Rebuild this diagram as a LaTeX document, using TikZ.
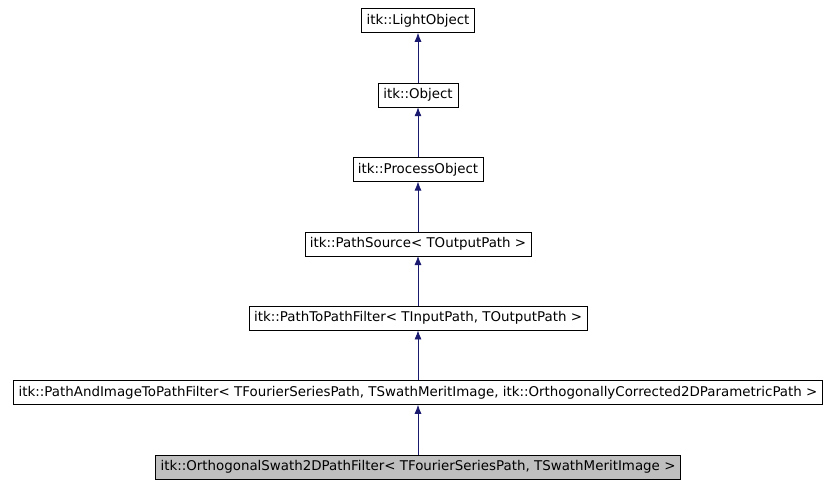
\documentclass[tikz,border=0pt]{standalone}
\usepackage{fontspec}
\setmainfont{DejaVu Sans}
\usetikzlibrary{arrows.meta, positioning}
\definecolor{edgeblue}{RGB}{25,25,112}
\begin{document}
\begin{tikzpicture}[x=1pt, y=1pt, >={Latex[length=9pt,width=7pt]}, node distance = 50pt]
				\tikzstyle{cls} = [draw=black, rectangle, minimum height=24pt, inner xsep=5pt, inner ysep=0pt, font=\fontsize{13.4}{15}\selectfont]
				\tikzstyle{cur} = [cls, fill=black!25]
				\tikzstyle{inh} = [->, edgeblue, thick]
				\useasboundingbox (0,0) rectangle (835,-485);
				
				\node[cur]	at (418,-467)	(orth)	{itk::OrthogonalSwath2DPathFilter< TFourierSeriesPath, TSwathMeritImage >};
				\node[cls, above=of orth]	(paif)	{itk::PathAndImageToPathFilter< TFourierSeriesPath, TSwathMeritImage, itk::OrthogonallyCorrected2DParametricPath >};
				\node[cls, above=of paif]	(ptpf)	{itk::PathToPathFilter< TInputPath, TOutputPath >};
				\node[cls, above=of ptpf]	(psrc)	{itk::PathSource< TOutputPath >};
				\node[cls, above=of psrc]	(proc)	{itk::ProcessObject};
				\node[cls, above=of proc]	(obj)	{itk::Object};
				\node[cls, above=of obj]	(light)	{itk::LightObject};
				
				\path[inh]
				(orth)	edge	(paif)
				(paif)	edge	(ptpf)
				(ptpf)	edge	(psrc)
				(psrc)	edge	(proc)
				(proc)	edge	(obj)
				(obj)	edge	(light);
			\end{tikzpicture}
\end{document}
